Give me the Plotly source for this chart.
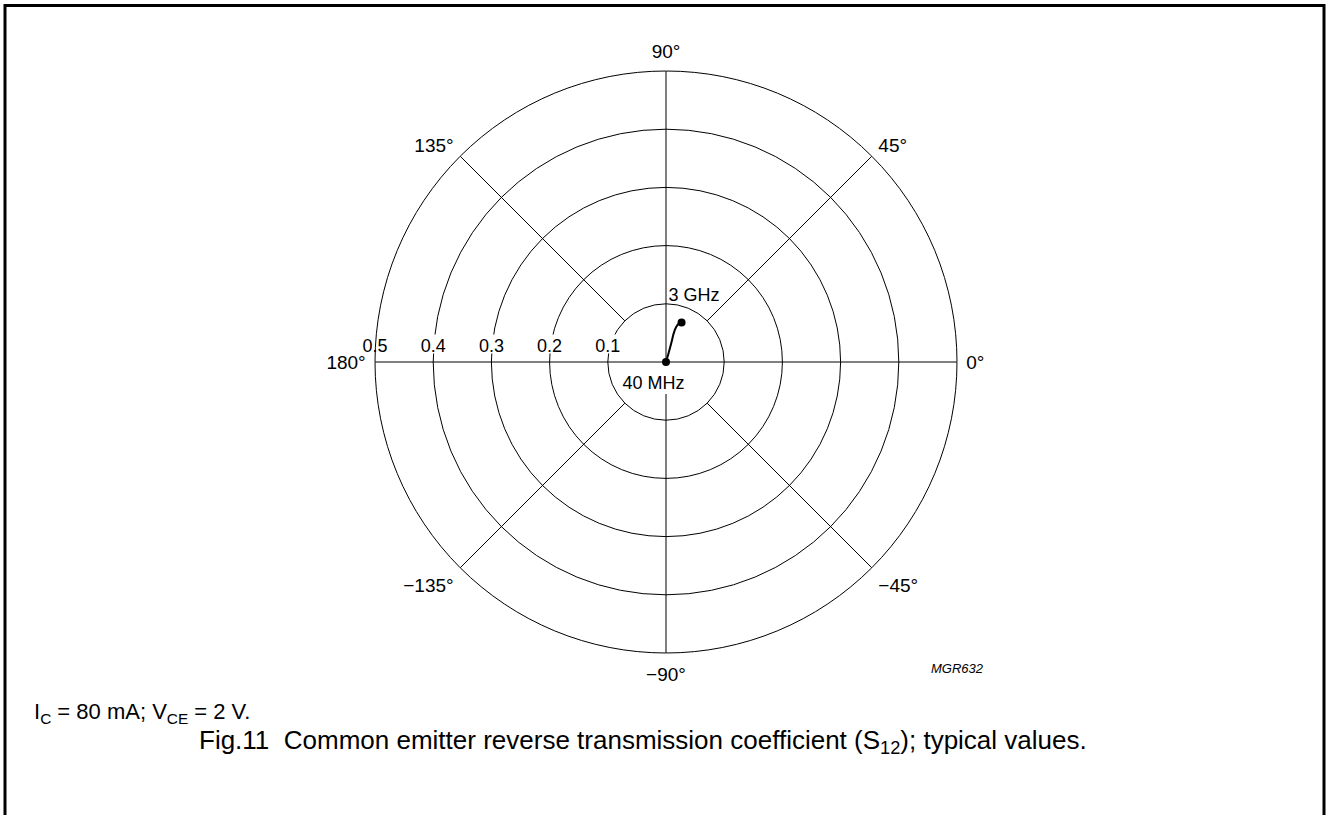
import plotly.graph_objects as go

# ---- data ----
freq_labels = ["40 MHz", "", "", "", "", "", "3 GHz"]
s12_mag = [0.000, 0.018, 0.036, 0.051, 0.063, 0.070, 0.073]
s12_ang = [75.0, 74.0, 74.4, 75.0, 73.7, 71.4, 68.5]

r_ticks = [0.1, 0.2, 0.3, 0.4, 0.5]
r_labels = ["0.1", "0.2", "0.3", "0.4", "0.5"]
ang_ticks = [0, 45, 90, 135, 180, 225, 270, 315]
ang_labels = ["0°", "45°", "90°", "135°", "180°", "\u2212135°", "\u221290°", "\u221245°"]
spoke_start = [0.0, 0.1, 0.0, 0.1, 0.0, 0.1, 0.055, 0.1]

W, H = 1327, 815
cx, cy, R = 666, 362, 291
FONT = "Liberation Sans, Arial, sans-serif"
NB = "\u00a0"

fig = go.Figure()

# spokes (angular grid lines)
for a, s in zip(ang_ticks, spoke_start):
    fig.add_trace(go.Scatterpolar(r=[s, r_ticks[-1]], theta=[a, a], mode="lines",
                                  line=dict(color="black", width=1),
                                  hoverinfo="skip", showlegend=False))

# white boxes behind radial labels
fig.add_trace(go.Scatterpolar(r=r_ticks, theta=[180] * len(r_ticks), mode="markers",
                              marker=dict(symbol="square", size=19, color="white",
                                          angle=180, angleref="up", standoff=18,
                                          line=dict(width=0)),
                              hoverinfo="skip", showlegend=False))
# radial labels along 180 deg
fig.add_trace(go.Scatterpolar(r=r_ticks, theta=[180] * len(r_ticks), mode="markers+text",
                              text=r_labels, textposition="top center",
                              marker=dict(size=8, opacity=0),
                              textfont=dict(family=FONT, size=18, color="black"),
                              hoverinfo="skip", showlegend=False))

# S12 curve
fig.add_trace(go.Scatterpolar(r=s12_mag, theta=s12_ang, mode="lines",
                              line=dict(color="black", width=2, shape="spline"),
                              hoverinfo="skip", showlegend=False))
fig.add_trace(go.Scatterpolar(r=[s12_mag[0], s12_mag[-1]], theta=[s12_ang[0], s12_ang[-1]],
                              mode="markers", marker=dict(color="black", size=8),
                              showlegend=False))
# frequency labels
fig.add_trace(go.Scatterpolar(r=[s12_mag[0]], theta=[s12_ang[0]], mode="markers+text",
                              text=[freq_labels[0] + NB * 5], textposition="bottom center",
                              marker=dict(size=20, opacity=0),
                              textfont=dict(family=FONT, size=18, color="black"),
                              hoverinfo="skip", showlegend=False))
fig.add_trace(go.Scatterpolar(r=[s12_mag[-1]], theta=[s12_ang[-1]], mode="markers+text",
                              text=[NB * 5 + freq_labels[-1]], textposition="top center",
                              marker=dict(size=26, opacity=0),
                              textfont=dict(family=FONT, size=18, color="black"),
                              hoverinfo="skip", showlegend=False))

fig.update_layout(
    width=W, height=H,
    margin=dict(l=0, r=0, t=0, b=0),
    paper_bgcolor="white",
    plot_bgcolor="white",
    polar=dict(
        domain=dict(x=[(cx - R) / W, (cx + R) / W], y=[(H - cy - R) / H, (H - cy + R) / H]),
        bgcolor="white",
        radialaxis=dict(range=[0, 0.5], tickvals=r_ticks, showticklabels=False, ticks="",
                        showline=False, gridcolor="black", gridwidth=1),
        angularaxis=dict(tickvals=ang_ticks, ticktext=ang_labels, direction="counterclockwise",
                         rotation=0, showgrid=False, linecolor="black", linewidth=1,
                         ticks="outside", ticklen=5, tickcolor="white",
                         tickfont=dict(family=FONT, size=19, color="black")),
    ),
    shapes=[dict(type="rect", xref="paper", yref="paper",
                 x0=5 / W, x1=1324 / W, y0=-0.05, y1=(H - 5.5) / H,
                 line=dict(color="black", width=3))],
    annotations=[
        dict(text="I<sub>C</sub> = 80 mA; V<sub>CE</sub> = 2 V.", xref="paper", yref="paper",
             x=32 / W, y=(H - 713) / H, xanchor="left", yanchor="middle", showarrow=False,
             font=dict(family=FONT, size=22, color="black")),
        dict(text="Fig.11" + NB * 2 + "Common emitter reverse transmission coefficient (S<sub>12</sub>); typical values.",
             xref="paper", yref="paper",
             x=197 / W, y=(H - 741) / H, xanchor="left", yanchor="middle", showarrow=False,
             font=dict(family=FONT, size=26, color="black")),
        dict(text="<i>MGR632</i>", xref="paper", yref="paper",
             x=957 / W, y=(H - 668) / H, xanchor="center", yanchor="middle", showarrow=False,
             font=dict(family=FONT, size=13, color="black")),
    ],
)

fig.write_html("out.html", config={"displayModeBar": False},
               post_script="document.body.style.margin='0px';")
